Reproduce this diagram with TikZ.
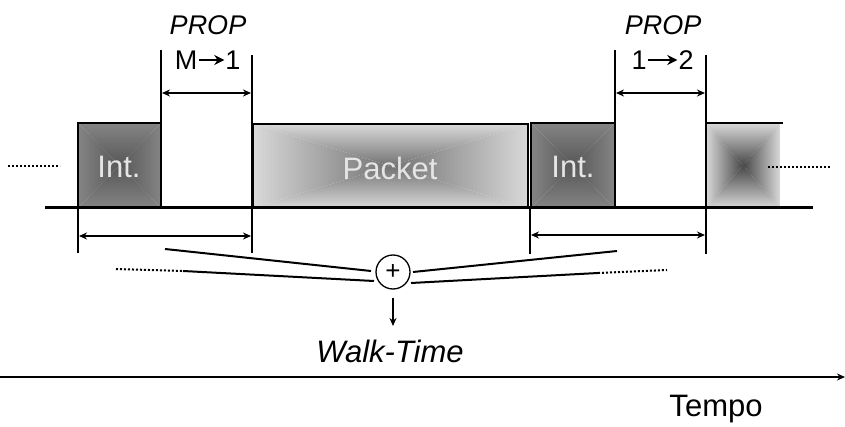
\documentclass[tikz,border=0pt]{standalone}
\usepackage{fontspec}
\setmainfont{Liberation Sans}
\usetikzlibrary{arrows.meta,calc}
\newcommand{\pyrbox}[6]{%
  \begin{scope}
    \clip (#1,#2) -- (#3,#2) -- ({(#1+#3)/2},{(#2+#4)/2}) -- cycle;
    \shade[top color=#5,bottom color=#6] (#1,#2) rectangle (#3,{(#2+#4)/2});
  \end{scope}
  \begin{scope}
    \clip (#1,#4) -- (#3,#4) -- ({(#1+#3)/2},{(#2+#4)/2}) -- cycle;
    \shade[top color=#6,bottom color=#5] (#1,{(#2+#4)/2}) rectangle (#3,#4);
  \end{scope}
  \begin{scope}
    \clip (#1,#2) -- (#1,#4) -- ({(#1+#3)/2},{(#2+#4)/2}) -- cycle;
    \shade[left color=#5,right color=#6] (#1,#2) rectangle ({(#1+#3)/2},#4);
  \end{scope}
  \begin{scope}
    \clip (#3,#2) -- (#3,#4) -- ({(#1+#3)/2},{(#2+#4)/2}) -- cycle;
    \shade[left color=#6,right color=#5] ({(#1+#3)/2},#2) rectangle (#3,#4);
  \end{scope}}
\definecolor{intedge}{gray}{0.52}
\definecolor{intmid}{gray}{0.34}
\definecolor{pkedge}{gray}{0.85}
\definecolor{pkmid}{gray}{0.45}
\definecolor{lastedge}{gray}{0.85}
\definecolor{lastmid}{gray}{0.28}
\definecolor{boxtext}{gray}{0.90}
\begin{document}
\begin{tikzpicture}[x=1pt,y=-1pt,
  vline/.style={line width=2pt},
  dim/.style={line width=1.8pt,{Stealth[length=8pt,width=7pt]}-{Stealth[length=8pt,width=7pt]}},
  big/.style={font=\fontsize{31}{31}\selectfont,inner sep=0pt},
  mid/.style={font=\fontsize{27}{27}\selectfont,inner sep=0pt},
  boxlbl/.style={big,text=boxtext},
  dots/.style={line width=2pt,dash pattern=on 2pt off 2pt},
  conv/.style={line width=2pt},
  txtarrow/.style={line width=2.4pt,-{Stealth[length=10pt,width=10pt]}}]
\useasboundingbox (0,0) rectangle (845,427);
% boxes
\pyrbox{78}{123}{161}{208}{intedge}{intmid}
\draw[line width=1.5pt] (78,123) rectangle (161,208);
\pyrbox{253}{124}{528}{208}{pkedge}{pkmid}
\draw[line width=1.5pt] (253,124) rectangle (528,208);
\pyrbox{531}{123}{615}{208}{intedge}{intmid}
\draw[line width=1.5pt] (531,123) rectangle (615,208);
\pyrbox{706}{123}{780}{208}{lastedge}{lastmid}
\draw[line width=1.5pt] (706,123) -- (783,123);
\node[boxlbl] (int1) at (119,167) {Int.};
\node[boxlbl] (pkt) at (390,168) {Packet};
\node[boxlbl] (int2) at (573,167) {Int.};
% dotted continuations
\coordinate (dl1) at (8,166); \coordinate (dl2) at (60,166);
\coordinate (dr1) at (768,167); \coordinate (dr2) at (830,167);
\draw[dots] (dl1) -- (dl2);
\draw[dots] (dr1) -- (dr2);
% baseline
\coordinate (b1) at (45,208); \coordinate (b2) at (813,208);
\draw[line width=3pt] (b1) -- (b2);
% PROP vertical lines
\coordinate (p1t) at (161,50); \coordinate (p1b) at (161,208);
\coordinate (p2t) at (252,55); \coordinate (p2b) at (252,253);
\coordinate (p3t) at (615,50); \coordinate (p3b) at (615,208);
\coordinate (p4t) at (706,55); \coordinate (p4b) at (706,254);
\draw[vline] (p1t) -- (p1b);
\draw[vline] (p2t) -- (p2b);
\draw[vline] (p3t) -- (p3b);
\draw[vline] (p4t) -- (p4b);
% lower ticks
\coordinate (t1t) at (78,208); \coordinate (t1b) at (78,253);
\coordinate (t3t) at (530,208); \coordinate (t3b) at (530,254);
\draw[vline] (t1t) -- (t1b);
\draw[vline] (t3t) -- (t3b);
% dimension arrows
\coordinate (a1l) at (162,93); \coordinate (a1r) at (251,93);
\coordinate (a2l) at (616,93); \coordinate (a2r) at (705,93);
\coordinate (a3l) at (79,236); \coordinate (a3r) at (251,236);
\coordinate (a4l) at (531,235); \coordinate (a4r) at (705,235);
\draw[dim] (a1l) -- (a1r);
\draw[dim] (a2l) -- (a2r);
\draw[dim] (a3l) -- (a3r);
\draw[dim] (a4l) -- (a4r);
% labels
\node[mid] (prop1) at (208,25) {\itshape PROP};
\node[mid] (mM) at (186,60) {M};
\node[mid] (m1) at (233,60) {1};
\draw[txtarrow] ($(mM.east)+(2,0)$) -- ($(m1.west)+(-1,0)$);
\node[mid] (prop2) at (663,25) {\itshape PROP};
\node[mid] (r1) at (639,60) {1};
\node[mid] (r2) at (686,60) {2};
\draw[txtarrow] ($(r1.east)+(1,0)$) -- ($(r2.west)+(-1,0)$);
% sum
\node[circle,draw,line width=1.3pt,minimum size=34pt,inner sep=0pt,font=\fontsize{26}{26}\selectfont] (sum) at (393,272) {+};
\coordinate (c1a) at (165,249); \coordinate (c1b) at (371,271);
\coordinate (c2a) at (116,269); \coordinate (c2m) at (183,271); \coordinate (c2b) at (374,281);
\coordinate (c3a) at (413,272); \coordinate (c3b) at (617,251);
\coordinate (c4a) at (411,283); \coordinate (c4m) at (598,273); \coordinate (c4b) at (667,270);
\draw[conv] (c1a) -- (c1b);
\draw[dots] (c2a) -- (c2m);
\draw[conv] (c2m) -- (c2b);
\draw[conv] (c3a) -- (c3b);
\draw[conv] (c4a) -- (c4m);
\draw[dots] (c4m) -- (c4b);
\coordinate (wt) at (393,326);
\draw[line width=1.8pt,-{Stealth[length=8pt,width=7pt]}] ($(sum.south)+(0,8)$) -- (wt);
\node[big] (walk) at (390,351) {\itshape Walk-Time};
% time axis
\coordinate (ax1) at (0,377); \coordinate (ax2) at (845,377);
\draw[line width=2pt,-{Stealth[length=8pt,width=7pt]}] (ax1) -- (ax2);
\node[big] (tempo) at (716,409) {Tempo};
\end{tikzpicture}
\end{document}
